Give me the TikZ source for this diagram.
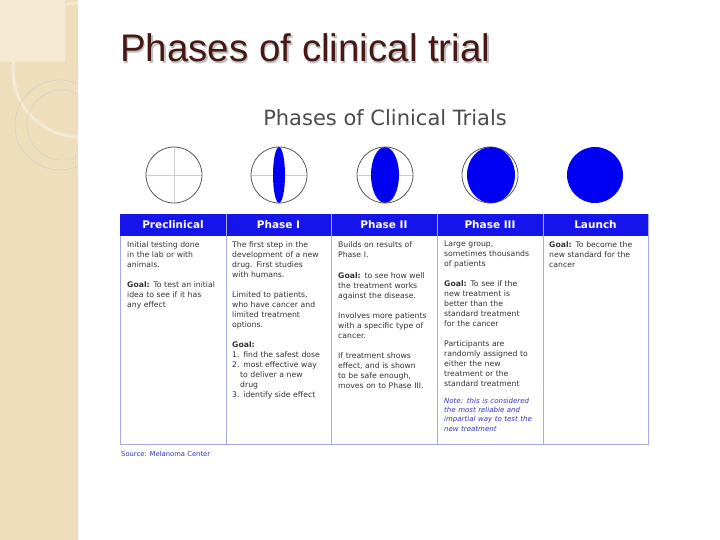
\documentclass[tikz,border=0pt]{standalone}
\usepackage{fontspec}
\setmainfont{DejaVu Sans}
\newfontfamily\titlefont{Liberation Sans}
\definecolor{hdrblue}{RGB}{20,20,235}
\definecolor{fillblue}{RGB}{0,0,245}
\definecolor{lineblue}{RGB}{170,170,230}
\definecolor{beige}{RGB}{238,222,188}
\definecolor{beigelight}{RGB}{244,234,212}
\definecolor{brown}{RGB}{70,25,20}
\definecolor{srcblue}{RGB}{50,50,200}
\tikzset{
  body/.style={anchor=north west,inner sep=0pt,text width=120pt,align=left,font=\fontsize{7.7}{10}\selectfont,text=black!80},
  hdr/.style={text=white,font=\fontsize{10.5}{12}\selectfont\bfseries},
  ring/.style={draw=black!65,line width=0.8pt},
  dot/.style={fill=fillblue}
}
\begin{document}
\begin{tikzpicture}[x=1pt,y=-1pt]
\useasboundingbox (0,0) rectangle (720,540);
\fill[white] (0,0) rectangle (720,540);
% left strip
\fill[beige] (0,0) rectangle (78,540);
\begin{scope}
\clip (0,0) rectangle (78,540);
\fill[beigelight] (0,0) rectangle (65,62);
\draw[beigelight,line width=3pt] (80,70) circle (67);
\draw[black!20,line width=0.4pt] (60,125) circle (45);
\draw[black!20,line width=0.4pt] (62,125) circle (35);
\end{scope}
% slide title
\node[anchor=base west,inner sep=0pt,text=black!25,font=\titlefont\fontsize{38.5}{40}\selectfont] at (121.5,63.5) {Phases of clinical trial};
\node (slidetitle) [anchor=base west,inner sep=0pt,text=brown,font=\titlefont\fontsize{38.5}{40}\selectfont] at (120,62) {Phases of clinical trial};
\node (charttitle) [text=black!70,font=\fontsize{21}{23}\selectfont] at (385,118) {Phases of Clinical Trials};
% circles
\draw[black!20,line width=0.4pt] (146,175) -- (202,175) (174,147) -- (174,203);
\node (c1) [circle,ring,minimum size=56pt,inner sep=0pt] at (174,175) {};
\draw[black!20,line width=0.4pt] (251,175) -- (307,175) (279,147) -- (279,203);
\fill[dot] (279,175) ellipse (6 and 28);
\node (c2) [circle,ring,minimum size=56pt,inner sep=0pt] at (279,175) {};
\draw[black!20,line width=0.4pt] (357,175) -- (413,175);
\fill[dot] (385,175) ellipse (14 and 28);
\node (c3) [circle,ring,minimum size=56pt,inner sep=0pt] at (385,175) {};
\node (c4) [circle,ring,minimum size=56pt,inner sep=0pt] at (490,175) {};
\fill[dot] (491,175) ellipse (24 and 28);
\node (c5) [circle,dot,minimum size=56pt,inner sep=0pt] at (595,175) {};
% table
\draw[lineblue,line width=0.8pt] (120,214) rectangle (648,444);
\fill[hdrblue] (120,214) rectangle (648,236);
\foreach \x in {226,331,437,543} \draw[lineblue,line width=0.8pt] (\x,214) -- (\x,444);
\node (h1) [hdr] at (173,225) {Preclinical};
\node (h2) [hdr] at (278.5,225) {Phase I};
\node (h3) [hdr] at (384,225) {Phase II};
\node (h4) [hdr] at (490,225) {Phase III};
\node (h5) [hdr] at (595.5,225) {Launch};
\node (b1) [body] at (127,241) {Initial testing done\\in the lab or with\\animals.\\[10pt]\textbf{Goal:} To test an initial\\idea to see if it has\\any effect};
\node (b2) [body] at (232,241) {The first step in the\\development of a new\\drug. First studies\\with humans.\\[10pt]Limited to patients,\\who have cancer and\\limited treatment\\options.\\[10pt]\textbf{Goal:}\\1. find the safest dose\\2. most effective way\\\hspace*{8pt}to deliver a new\\\hspace*{8pt}drug\\3. identify side effect};
\node (b3) [body] at (338,241) {Builds on results of\\Phase I.\\[11pt]\textbf{Goal:} to see how well\\the treatment works\\against the disease.\\[10pt]Involves more patients\\with a specific type of\\cancer.\\[10pt]If treatment shows\\effect, and is shown\\to be safe enough,\\moves on to Phase III.};
\node (b4) [body] at (444,241) {Large group,\\sometimes thousands\\of patients\\[10pt]\textbf{Goal:} To see if the\\new treatment is\\better than the\\standard treatment\\for the cancer\\[10pt]Participants are\\randomly assigned to\\either the new\\treatment or the\\standard treatment\\[8pt]{\color{srcblue}\itshape\fontsize{7}{9}\selectfont Note: this is considered\\the most reliable and\\impartial way to test the\\new treatment}};
\node (b5) [body] at (549,241) {\textbf{Goal:} To become the\\new standard for the\\cancer};
\node (src) [anchor=west,inner sep=0pt,text=srcblue,font=\fontsize{6.8}{8}\selectfont] at (121,454) {Source: Melanoma Center};
\end{tikzpicture}
\end{document}
